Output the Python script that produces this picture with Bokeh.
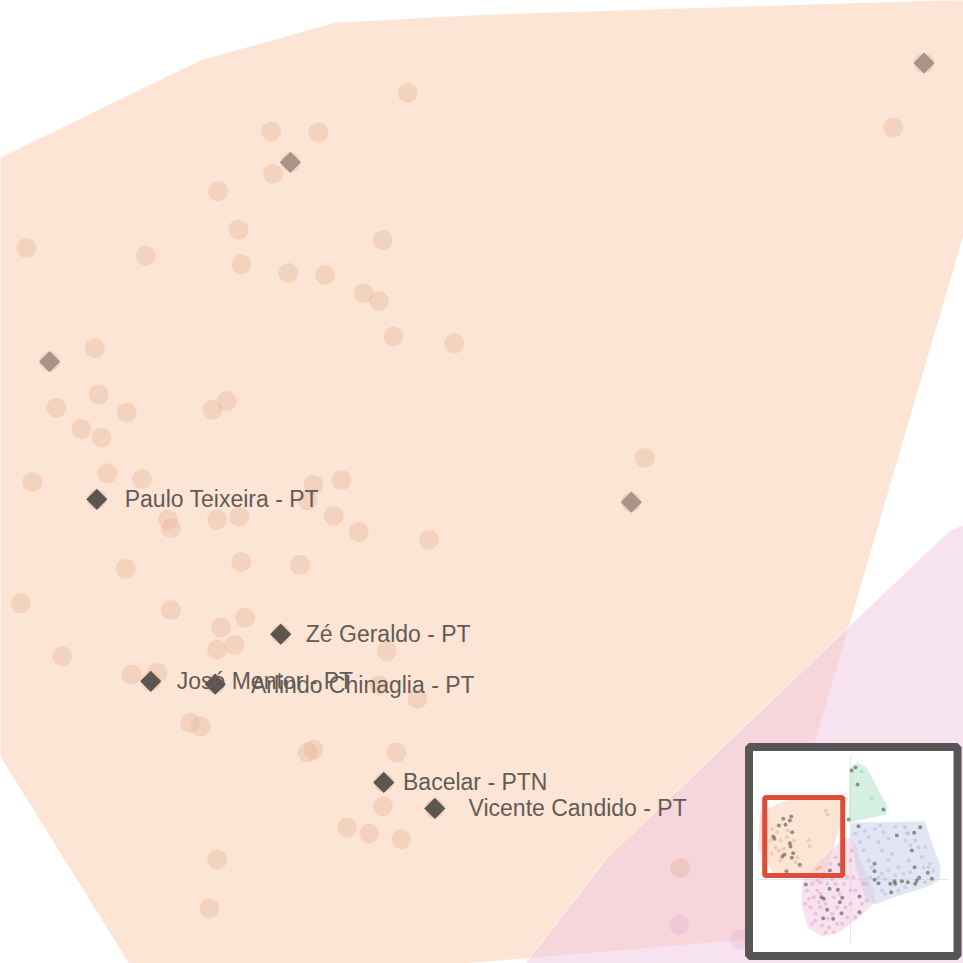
import numpy as np
from bokeh.plotting import figure
from bokeh.models import Range1d
from bokeh.core.properties import value
from bokeh.embed import file_html
from bokeh.resources import INLINE

# ---------------- data (world units of the 2-D projection) ----------------
# main-view points (peach cluster)
pt_x = [-6.77, -8.19, -7.70, -7.99, -8.17, -8.74, -8.53, -10.73, -9.49, -8.50,
        -7.03, -8.01, -7.63, -7.23, -7.07, -1.41, -1.73, -6.92, -6.29, -10.49,
        -10.02, -9.98, -10.42, -9.69, -10.16, -9.95, -8.80, -8.65, -10.67, -9.89,
        -9.53, -10.00, -7.75, -7.46, -7.81, -9.26, -9.23, -8.75, -8.52, -7.54,
        -7.28, -6.55, -9.70, -8.50, -7.89, -4.31, -4.45, -10.79, -9.23, -8.71,
        -8.46, -8.75, -8.57, -8.09, -10.36, -6.99, -9.64, -9.37, -9.44, -8.77,
        -7.07, -6.67, -9.03, -8.92, -7.81, -7.75, -6.89, -7.02, -7.03, -6.49,
        -7.40, -7.17, -6.84, -8.75, -8.83, -3.94]
pt_y = [9.54, 9.14, 9.13, 8.82, 8.70, 8.52, 8.12, 7.93, 7.85, 7.76,
        8.01, 7.67, 7.65, 7.46, 7.38, 9.85, 9.18, 7.01, 6.94, 6.75,
        6.89, 6.41, 6.27, 6.22, 6.05, 5.96, 6.25, 6.34, 5.50, 5.59,
        5.53, 5.32, 5.47, 5.52, 5.31, 5.11, 5.02, 5.11, 5.14, 5.15,
        4.98, 4.90, 4.60, 4.67, 4.64, 5.75, 5.29, 4.24, 4.17, 3.99,
        4.09, 3.76, 3.81, 3.92, 3.69, 3.74, 3.50, 3.52, 3.43, 3.40,
        3.39, 3.25, 3.00, 2.96, 2.69, 2.72, 2.69, 2.38, 2.13, 2.11,
        1.91, 1.85, 1.79, 1.58, 1.07, 1.49]
# main-view points (pink cluster)
pink_pt_x = [-3.95, -3.32]
pink_pt_y = [0.90, 0.75]

# highlighted members without label (faded diamonds)
faded_x = [-7.99, -1.41, -10.49, -4.45]
faded_y = [8.82, 9.85, 6.75, 5.29]

# labelled members
labels = ["Paulo Teixeira - PT", "Zé Geraldo - PT", "José Mentor - PT",
          "Arlindo Chinaglia - PT", "Bacelar - PTN", "Vicente Candido - PT"]
lab_pt_x = [-10.00, -8.09, -9.44, -8.77, -7.02, -6.49]
lab_pt_y = [5.32, 3.92, 3.43, 3.40, 2.38, 2.11]
lab_txt_x = [-9.71, -7.83, -9.17, -8.40, -6.82, -6.14]
lab_txt_y = [5.32, 3.92, 3.43, 3.39, 2.38, 2.11]

# cluster hulls
peach_hull_x = [-11.62, -8.92, -7.52, -6.02, -0.28, -3.14, -9.49, -11.83]
peach_hull_y = [8.57, 9.88, 10.27, 10.35, 10.53, 0.76, 0.22, 3.98]
pink_hull_x = [-1.14, -0.20, 0.60, 1.15, 3.08, 3.08, 1.28, -1.54, -3.59, -5.38,
               -6.30, -6.20, -5.55, -4.70]
pink_hull_y = [5.00, 5.35, 4.60, 2.82, -1.67, -2.95, -4.74, -6.79, -7.31, -6.28,
               -3.33, -0.34, 0.50, 1.60]
blue_hull_x = [0.13, 9.49, 11.54, 11.41, 10.0, 5.77, 3.21, 2.05, 0.77, 0.0]
blue_hull_y = [7.31, 7.44, 1.67, 0.0, -0.90, -2.18, -3.21, -2.69, 1.15, 5.64]
green_hull_x = [-0.26, -0.13, 0.26, 0.90, 2.05, 4.74, 4.62]
green_hull_y = [7.31, 13.33, 14.62, 15.0, 14.36, 9.36, 8.33]

# overview (minimap) sample
ov_peach_dark_x = [-8.63, -7.60, -9.19, -8.33, -7.78, -7.47, -9.91, -9.74, -7.78, -7.69,
                   -8.72, -8.46, -7.35, -7.53, -6.50, -8.21]
ov_peach_dark_y = [7.78, 8.08, 6.92, 7.01, 7.56, 6.06, 5.51, 5.22, 4.65, 4.23,
                   2.95, 3.21, 3.37, 2.78, 1.88, 1.06]
ov_peach_x = [-10.04, -9.40, -8.97, -8.12, -9.62, -9.19, -8.55, -6.83, -7.05, -5.35,
              -5.22, -3.21, -2.91, -8.97, -10.04, -3.85, -4.27, -8.04, -10.26, -7.27]
ov_peach_y = [6.50, 6.06, 5.00, 5.42, 4.14, 3.72, 3.94, 2.86, 2.22, 5.00,
              4.23, 8.85, 8.33, 2.44, 3.29, 1.58, 1.37, 6.28, 5.00, 5.00]
ov_pink_dark_x = [-5.73, -2.65, -1.41, -2.69, -1.63, -3.72, -3.42, -1.06, -1.37, -2.99,
                  -1.15, -3.50, -2.22, 1.15, 1.15]
ov_pink_dark_y = [-0.64, 1.15, 1.92, -1.19, -1.32, -2.27, -2.47, -2.35, -2.91, -3.88,
                  -4.32, -4.96, -5.04, -2.18, -4.19]
ov_pink_x = [-5.56, -4.91, -4.27, -3.63, -4.70, -4.06, -5.13, -4.49, -3.85, -2.14,
             -1.92, -0.85, -0.43, -2.35, -2.99, -4.27, -1.71, -0.64, -0.43, -1.71,
             -2.78, -3.63, -4.49, -5.34, -3.21, -2.14, 0.00, -1.07, -3.21, -2.35,
             -4.91, -3.85, -2.56, -1.92, -0.85, 0.00, -1.07, 0.00, -5.77, -1.37,
             -2.91, -3.85, 0.17, 0.38, 0.60, 1.67, 1.45, 0.60, 2.09]
ov_pink_y = [-1.41, -0.56, -0.13, 0.30, -2.26, -2.91, -3.55, -4.40, -3.55, -2.26,
             -0.56, -0.56, 0.30, 0.09, -0.56, -1.41, -3.55, -3.55, -4.83, -5.68,
             -6.11, -5.90, -5.26, -2.48, -6.75, -6.75, -3.12, -5.68, -3.12, -4.40,
             -5.68, -0.34, 2.01, 2.86, 3.29, 2.44, 0.73, -1.41, -3.12, -1.84,
             -5.04, -1.84, 3.72, 0.30, -1.41, -0.56, -3.12, -4.83, -2.69]
ov_blue_dark_x = [1.03, 5.94, 8.16, 8.93, 7.86, 3.08, 3.08, 3.08, 3.59, 5.09,
                  5.64, 6.58, 7.35, 8.29, 8.80, 8.50, 8.21, 9.91, 10.43, 5.21, 5.73]
ov_blue_dark_y = [6.84, 5.64, 5.98, 6.71, 3.72, 2.01, 1.07, -0.04, -0.47, -0.56,
                  -0.21, -0.21, -0.34, -0.56, 0.21, -0.13, 1.58, 0.85, 0.09, -1.62, -0.56]
ov_blue_x = [0.60, 1.88, 3.16, 3.80, 5.73, 7.01, 7.22, 4.87, 3.59, 2.31,
             1.67, 4.02, 5.30, 7.01, 7.65, 8.72, 9.57, 4.87, 7.44, 9.15,
             10.21, 10.64, 2.31, 2.74, 4.02, 4.87, 5.73, 6.79, 7.65, 9.36,
             10.00, 4.02, 4.44, 6.15, 7.01, 9.57, 3.59, 4.44, 2.09, 7.44,
             6.15, 1.24, 8.29, 4.23, 2.52]
ov_blue_y = [5.85, 6.28, 6.50, 6.92, 6.79, 6.71, 5.94, 5.21, 4.79, 5.43,
             3.72, 3.72, 3.29, 5.00, 4.36, 4.15, 4.15, 2.44, 2.44, 2.86,
             2.01, 1.15, 2.44, 1.58, 0.73, 1.15, 0.51, 0.73, 0.94, 1.58,
             1.58, -1.41, -1.84, -1.41, -0.98, -0.34, 0.30, 0.09, -0.56, 5.85,
             1.58, 4.79, 5.00, 6.07, 0.30]
ov_green_dark_x = [0.13, 0.64, 0.90, 4.23, -0.26]
ov_green_dark_y = [13.97, 14.36, 12.18, 8.97, 7.69]
ov_green_x = [2.69, 1.41]
ov_green_y = [10.38, 13.85]

# ---------------- figure ----------------
W = H = 963
X_RANGE = (-11.0, -1.0)
Y_RANGE = (0.5, 10.5)

p = figure(width=W, height=H, x_range=Range1d(*X_RANGE), y_range=Range1d(*Y_RANGE),
           output_backend="svg", toolbar_location=None,
           x_axis_location=None, y_axis_location=None, min_border=0)
p.grid.visible = False
p.outline_line_color = None
p.background_fill_color = "white"
p.border_fill_color = "white"

PEACH, PINK, BLUE, GREEN = "#fbcbab", "#efc7df", "#c5cde7", "#abe1c1"
DARK = "#5d554f"

# main view
p.patch(peach_hull_x, peach_hull_y, fill_color=PEACH, fill_alpha=0.5, line_color=None)
p.patch(pink_hull_x, pink_hull_y, fill_color=PINK, fill_alpha=0.5,
        line_color="white", line_alpha=0.7, line_width=1)
p.scatter(pt_x, pt_y, size=20, fill_color="#e1aa8c", fill_alpha=0.3, line_color=None)
p.scatter(pink_pt_x, pink_pt_y, size=20, fill_color="#e0a8d0", fill_alpha=0.3, line_color=None)
p.scatter(faded_x, faded_y, marker="square", angle=np.pi / 4, size=15,
          fill_color=DARK, fill_alpha=0.5, line_color=None)
p.scatter(lab_pt_x, lab_pt_y, marker="square", angle=np.pi / 4, size=15,
          fill_color=DARK, fill_alpha=1.0, line_color=None)
p.text(lab_txt_x, lab_txt_y, text=labels, text_font=value("Liberation Sans"),
       text_font_size="23px", text_color="#625b56", text_align="left",
       text_baseline="middle")


# ---------------- inset overview ----------------
def px_to_data(sx, sy):
    return (X_RANGE[0] + sx / W * (X_RANGE[1] - X_RANGE[0]),
            Y_RANGE[1] - sy / H * (Y_RANGE[1] - Y_RANGE[0]))


INSET_ORIGIN_PX = (850, 879)   # where the world origin sits in the inset
INSET_PX_PER_UNIT = 7.8
ox, oy = px_to_data(*INSET_ORIGIN_PX)
k = INSET_PX_PER_UNIT / W * (X_RANGE[1] - X_RANGE[0])


def tx(v):
    return list(ox + k * np.asarray(v, dtype=float))


def ty(v):
    return list(oy + k * np.asarray(v, dtype=float))


# frame
fl, ft = px_to_data(748.5, 746.5)
fr, fb = px_to_data(957, 955.5)
p.quad(left=[fl], right=[fr], top=[ft], bottom=[fb], fill_color="white",
       line_color="#565656", line_width=8)
# axis cross
ax0, ay0 = px_to_data(850, 755)
ax1, ay1 = px_to_data(850, 943)
p.segment(x0=[ax0], y0=[ay0], x1=[ax1], y1=[ay1], line_color="#e6e6e6", line_width=1)
bx0, by0 = px_to_data(758, 879)
bx1, by1 = px_to_data(948, 879)
p.segment(x0=[bx0], y0=[by0], x1=[bx1], y1=[by1], line_color="#e6e6e6", line_width=1)

# hulls
p.patch(tx(peach_hull_x), ty(peach_hull_y), fill_color=PEACH, fill_alpha=0.5, line_color=None)
p.patch(tx(green_hull_x), ty(green_hull_y), fill_color=GREEN, fill_alpha=0.5, line_color=None)
p.patch(tx(pink_hull_x), ty(pink_hull_y), fill_color=PINK, fill_alpha=0.5, line_color=None)
p.patch(tx(blue_hull_x), ty(blue_hull_y), fill_color=BLUE, fill_alpha=0.5, line_color=None)

# points
for xs, ys, col in [(ov_peach_x, ov_peach_y, "#eca77c"), (ov_pink_x, ov_pink_y, "#d69cc6"),
                    (ov_blue_x, ov_blue_y, "#a9b5dc"), (ov_green_x, ov_green_y, "#8fd0aa")]:
    p.scatter(tx(xs), ty(ys), size=4, fill_color=col, fill_alpha=0.45, line_color=None)
for xs, ys in [(ov_peach_dark_x, ov_peach_dark_y), (ov_pink_dark_x, ov_pink_dark_y),
               (ov_blue_dark_x, ov_blue_dark_y), (ov_green_dark_x, ov_green_dark_y)]:
    p.scatter(tx(xs), ty(ys), size=4, fill_color="#55504f", fill_alpha=0.6, line_color=None)

# viewport rectangle
p.quad(left=tx([X_RANGE[0]]), right=tx([X_RANGE[1]]), top=ty([Y_RANGE[1]]),
       bottom=ty([Y_RANGE[0]]), fill_color=None, line_color="#dc4e3a", line_width=5)

open("out.html", "w").write(file_html(p, INLINE))
